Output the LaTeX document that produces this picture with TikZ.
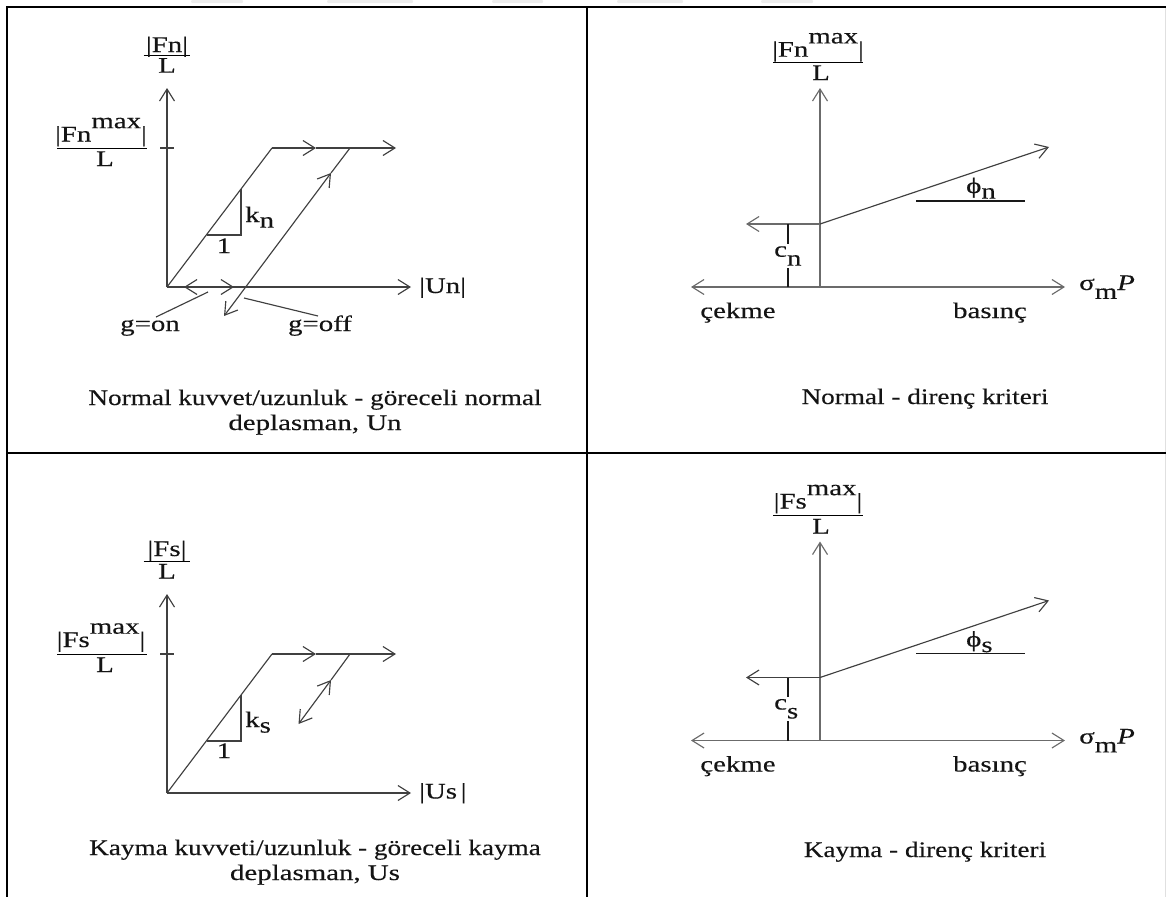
\documentclass[tikz,border=0pt]{standalone}
\usepackage{fontspec}
\setmainfont{Liberation Serif}[FakeStretch=1.3,FakeBold=0.3]
\newfontfamily\capfont{Liberation Serif}[FakeStretch=1.225,FakeBold=0.3]
\usetikzlibrary{arrows.meta}
\newcommand\dnsub[2][0.3em]{\raisebox{-#1}{#2}}
\newcommand\upsup[1]{\raisebox{0.6em}{#1}}
\begin{document}
\begin{tikzpicture}[x=1pt,y=-1pt,
  >={Straight Barb[length=12pt,width=15pt]},
  every node/.style={font=\fontsize{22.2pt}{26pt}\selectfont, inner sep=0pt, text=black!92},
  frame/.style={black, line width=1.6pt},
  ln/.style={black!75, line width=1.15pt},
  gln/.style={black!58, line width=1.15pt},
  dln/.style={black!90, line width=1.15pt},
  barln/.style={black, line width=1pt},
  lab/.style={anchor=base},
  labw/.style={anchor=base west},
  capnode/.style={anchor=base, font=\fontsize{22.2pt}{26pt}\capfont},
  artifact/.style={fill=black!7, rounded corners=1pt}
]
\useasboundingbox (0,0) rectangle (1166,897);
% screenshot artifacts at the top edge
\fill[artifact] (191,0) rectangle (243,3);
\fill[artifact] (327,0) rectangle (413,3);
\fill[artifact] (492,0) rectangle (543,3);
\fill[artifact] (617,0) rectangle (683,3);
\fill[artifact] (761,0) rectangle (813,3);
% table frame
\coordinate (fTR) at (1166,7);
\coordinate (fTL) at (7,7);
\coordinate (fBL) at (7,897);
\coordinate (fMT) at (587,7);
\coordinate (fMB) at (587,897);
\coordinate (fRL) at (7,453);
\coordinate (fRR) at (1166,453);
\coordinate (fEdgeT) at (1165,8);
\coordinate (fEdgeB) at (1165,897);
\draw[black!12, line width=1pt] (fEdgeT) -- (fEdgeB);
\draw[frame] (fTR) -- (fTL) -- (fBL);
\draw[frame] (fMT) -- (fMB);
\draw[frame] (fRL) -- (fRR);

% ================= top-left panel =================
\coordinate (a-O) at (167,287);
\coordinate (a-Yt) at (167,88);
\coordinate (a-Xt) at (411,287);
\coordinate (a-Tk1) at (160,148);
\coordinate (a-Tk2) at (174,148);
\coordinate (a-P1) at (272,148);
\coordinate (a-Pm) at (316,148);
\coordinate (a-P2) at (350,148);
\coordinate (a-P3) at (396,148);
\coordinate (a-Um) at (331,173);
\coordinate (a-Ue) at (224,316);
\coordinate (a-A) at (241,189);
\coordinate (a-B) at (241,235);
\coordinate (a-C) at (207,235);
\coordinate (a-D1) at (184,287);
\coordinate (a-D2) at (234,287);
\coordinate (a-gon1) at (208,292);
\coordinate (a-gon2) at (156,317);
\coordinate (a-goff1) at (244,298);
\coordinate (a-goff2) at (318,316);
\coordinate (a-b1l) at (143.5,55);
\coordinate (a-b1r) at (190,55);
\coordinate (a-b2l) at (57,148);
\coordinate (a-b2r) at (147,148);
\draw[ln,->] (a-O) -- (a-Yt);
\draw[ln,->] (a-O) -- (a-Xt);
\draw[ln] (a-Tk1) -- (a-Tk2);
\draw[ln] (a-O) -- (a-P1);
\draw[ln,->] (a-P1) -- (a-Pm);
\draw[ln,->] (a-Pm) -- (a-P3);
\draw[ln,<->] (a-Ue) -- (a-Um);
\draw[ln] (a-Um) -- (a-P2);
\draw[ln] (a-A) -- (a-B) -- (a-C);
\draw[ln,<->] (a-D1) -- (a-D2);
\draw[ln] (a-gon1) -- (a-gon2);
\draw[ln] (a-goff1) -- (a-goff2);
\draw[barln] (a-b1l) -- (a-b1r);
\draw[barln] (a-b2l) -- (a-b2r);
\node[lab] (a-ynum) at (167,52) {|Fn|};
\node[lab] (a-yden) at (167,72.7) {L};
\node[lab] (a-mnum) at (101,141.5) {|Fn\upsup{max}|};
\node[lab] (a-mden) at (105,166) {L};
\node[labw] (a-k) at (245,222) {k\dnsub[0.25em]{n}};
\node[lab] (a-one) at (224,253) {1};
\node[labw] (a-xl) at (419,293) {|Un|};
\node[lab] (a-gon) at (150,331) {g=on};
\node[lab] (a-goff) at (320,331) {g=off};
\node[capnode] (a-cap1) at (315,405) {Normal kuvvet/uzunluk - göreceli normal};
\node[lab] (a-cap2) at (315,430) {deplasman, Un};

% ================= bottom-left panel =================
\begin{scope}[shift={(0,506)}]
\coordinate (b-O) at (167,287);
\coordinate (b-Yt) at (167,88);
\coordinate (b-Xt) at (411,287);
\coordinate (b-Tk1) at (160,148);
\coordinate (b-Tk2) at (174,148);
\coordinate (b-P1) at (272,148);
\coordinate (b-Pm) at (316,148);
\coordinate (b-P2) at (350,148);
\coordinate (b-P3) at (396,148);
\coordinate (b-Um) at (331,174);
\coordinate (b-Ue) at (298.5,218);
\coordinate (b-A) at (241,189);
\coordinate (b-B) at (241,235);
\coordinate (b-C) at (207,235);
\coordinate (b-b1l) at (143.5,55);
\coordinate (b-b1r) at (190,55);
\coordinate (b-b2l) at (57,148);
\coordinate (b-b2r) at (147,148);
\draw[ln,->] (b-O) -- (b-Yt);
\draw[ln,->] (b-O) -- (b-Xt);
\draw[ln] (b-Tk1) -- (b-Tk2);
\draw[ln] (b-O) -- (b-P1);
\draw[ln,->] (b-P1) -- (b-Pm);
\draw[ln,->] (b-Pm) -- (b-P3);
\draw[ln,<->] (b-Ue) -- (b-Um);
\draw[ln] (b-Um) -- (b-P2);
\draw[ln] (b-A) -- (b-B) -- (b-C);
\draw[barln] (b-b1l) -- (b-b1r);
\draw[barln] (b-b2l) -- (b-b2r);
\node[lab] (b-ynum) at (167,50) {|Fs|};
\node[lab] (b-yden) at (167,72.5) {L};
\node[lab] (b-mnum) at (101,141) {|Fs\upsup{max}|};
\node[lab] (b-mden) at (105,166) {L};
\node[labw] (b-k) at (245,221) {k\dnsub[0.25em]{s}};
\node[lab] (b-one) at (224,252) {1};
\node[labw] (b-xl) at (419,292.5) {|Us\,|};
\end{scope}
\node[capnode] (b-cap1) at (315,855) {Kayma kuvveti/uzunluk - göreceli kayma};
\node[lab] (b-cap2) at (315,880) {deplasman, Us};

% ================= top-right panel =================
\coordinate (c-O) at (820,287);
\coordinate (c-Yt) at (820,88);
\coordinate (c-Xl) at (691,287);
\coordinate (c-Xr) at (1065,287);
\coordinate (c-C) at (820,224);
\coordinate (c-Cl) at (746,224);
\coordinate (c-Vt) at (788,224);
\coordinate (c-Vb) at (788,287);
\coordinate (c-S) at (1049,147);
\coordinate (c-H1) at (916,201);
\coordinate (c-H2) at (1025,201);
\coordinate (c-bl) at (773,62.3);
\coordinate (c-br) at (863,62.3);
\draw[gln,->] (c-O) -- (c-Yt);
\draw[gln,<->] (c-Xl) -- (c-Xr);
\draw[gln,->] (c-C) -- (c-Cl);
\draw[dln] (c-Vb) -- (c-Vt);
\draw[ln,->] (c-C) -- (c-S);
\draw[dln] (c-H1) -- (c-H2);
\draw[barln] (c-bl) -- (c-br);
\node[lab] (c-num) at (818,56.7) {|Fn\upsup{max}|};
\node[lab] (c-den) at (821,80) {L};
\node[labw, fill=white, inner ysep=2pt, inner xsep=1pt] (c-c) at (773,256.7) {c\dnsub[0.4em]{n}};
\node[labw] (c-phi) at (966,193) {ϕ\dnsub[0.25em]{n}};
\node[labw] (c-sig) at (1079,290) {σ\dnsub[0.4em]{m}\textit{P}};
\node[lab] (c-cek) at (738,318) {çekme};
\node[lab] (c-bas) at (990,318) {basınç};
\node[capnode] (c-cap) at (925,404) {Normal - direnç kriteri};

% ================= bottom-right panel =================
\begin{scope}[shift={(0,453.5)}]
\coordinate (d-O) at (820,287);
\coordinate (d-Yt) at (820,88);
\coordinate (d-Xl) at (691,287);
\coordinate (d-Xr) at (1065,287);
\coordinate (d-C) at (820,224);
\coordinate (d-Cl) at (746,224);
\coordinate (d-Vt) at (788,224);
\coordinate (d-Vb) at (788,287);
\coordinate (d-S) at (1049,147);
\coordinate (d-H1) at (916,200);
\coordinate (d-H2) at (1025,200);
\coordinate (d-bl) at (773,62.3);
\coordinate (d-br) at (863,62.3);
\draw[gln,->] (d-O) -- (d-Yt);
\draw[gln,<->] (d-Xl) -- (d-Xr);
\draw[ln,->] (d-C) -- (d-Cl);
\draw[dln] (d-Vb) -- (d-Vt);
\draw[ln,->] (d-C) -- (d-S);
\draw[dln] (d-H1) -- (d-H2);
\draw[barln] (d-bl) -- (d-br);
\node[lab] (d-num) at (818,55) {|Fs\upsup{max}|};
\node[lab] (d-den) at (821,80) {L};
\node[labw, fill=white, inner ysep=2pt, inner xsep=1pt] (d-c) at (773,256) {c\dnsub[0.4em]{s}};
\node[labw] (d-phi) at (966,193) {ϕ\dnsub[0.25em]{s}};
\node[labw] (d-sig) at (1079,290) {σ\dnsub[0.4em]{m}\textit{P}};
\node[lab] (d-cek) at (738,318) {çekme};
\node[lab] (d-bas) at (990,318) {basınç};
\end{scope}
\node[capnode] (d-cap) at (925,857) {Kayma - direnç kriteri};
\end{tikzpicture}
\end{document}
